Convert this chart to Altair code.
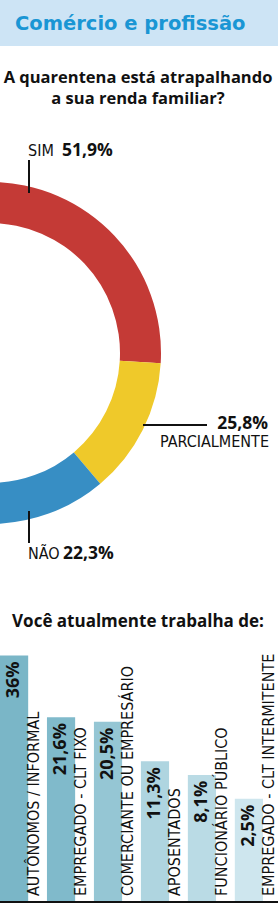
import math
import altair as alt
import pandas as pd

# ---------------- data ----------------
header_title = "Comércio e profissão"
pie_title_lines = ["A quarentena está atrapalhando", "a sua renda familiar?"]
pie_labels = ["SIM", "PARCIALMENTE", "NÃO"]
pie_values = [51.9, 25.8, 22.3]
pie_texts = ["51,9%", "25,8%", "22,3%"]
pie_colors = ["#c43a36", "#efc92a", "#378ec4"]

bar_title = "Você atualmente trabalha de:"
bar_labels = [
    "AUTÔNOMOS / INFORMAL",
    "EMPREGADO - CLT FIXO",
    "COMERCIANTE OU EMPRESÁRIO",
    "APOSENTADOS",
    "FUNCIONÁRIO PÚBLICO",
    "EMPREGADO - CLT INTERMITENTE",
]
bar_values = [36, 21.6, 20.5, 11.3, 8.1, 2.5]
bar_texts = ["36%", "21,6%", "20,5%", "11,3%", "8,1%", "2,5%"]
bar_colors = ["#7ab6c7", "#80bacb", "#95c6d4", "#afd5e0", "#badbe5", "#cee6ee"]

# ---------------- layout ----------------
W, H = 278, 910
HEAD_FONT = "Open Sans"
WIDE_FONT = "DejaVu Sans"
COND_FONT = "Liberation Sans Narrow, DejaVu Sans Condensed, Roboto"
BAR_BASE = -21.6

pie_df = pd.DataFrame({"label": pie_labels, "value": pie_values,
                       "text": pie_texts, "order": list(range(len(pie_labels)))})
bar_df = pd.DataFrame({"label": bar_labels, "value": bar_values, "text": bar_texts})
one = pd.DataFrame({"k": [0]})

band = alt.Chart(one).mark_rect(color="#cde4f5").encode(
    x=alt.value(0), x2=alt.value(W), y=alt.value(0), y2=alt.value(46))

head = alt.Chart(one).mark_text(
    text=header_title, font=WIDE_FONT, fontSize=19.5, fontWeight="bold",
    color="#1a96d4", align="left", baseline="alphabetic").encode(
    x=alt.value(15), y=alt.value(30))

t1 = alt.Chart(one).mark_text(
    text=pie_title_lines[0], font=HEAD_FONT, fontSize=16.5, fontWeight="bold",
    color="#111111", align="center", baseline="alphabetic").encode(
    x=alt.value(138), y=alt.value(83))
t2 = alt.Chart(one).mark_text(
    text=pie_title_lines[1], font=HEAD_FONT, fontSize=16.5, fontWeight="bold",
    color="#111111", align="center", baseline="alphabetic").encode(
    x=alt.value(138), y=alt.value(104))

arcs = alt.Chart(pie_df).mark_arc(outerRadius=171, innerRadius=130).encode(
    theta=alt.Theta("value:Q", stack=True, scale=alt.Scale(range=[0, math.pi])),
    color=alt.Color("label:N", scale=alt.Scale(domain=pie_labels, range=pie_colors), legend=None),
    order=alt.Order("order:Q"),
    x=alt.value(-10), y=alt.value(353),
)

def lab(text, x, y, bold=False, size=16, align="left"):
    return alt.Chart(one).mark_text(
        text=text, font=(HEAD_FONT if bold else COND_FONT), fontSize=size,
        fontWeight=("bold" if bold else "normal"), color="#111111",
        align=align, baseline="alphabetic").encode(x=alt.value(x), y=alt.value(y))

pie_lab = [
    lab(pie_labels[0], 28, 156), lab(pie_texts[0], 62, 156, bold=True, size=17.5),
    lab(pie_texts[1], 268, 429, bold=True, size=17.5, align="right"),
    lab(pie_labels[1], 269, 447, align="right"),
    lab(pie_labels[2], 28, 559), lab(pie_texts[2], 63, 559, bold=True, size=17.5),
]

lines = [
    alt.Chart(one).mark_rule(color="#111111", strokeWidth=2).encode(
        x=alt.value(29), y=alt.value(160), y2=alt.value(193)),
    alt.Chart(one).mark_rule(color="#111111", strokeWidth=2).encode(
        x=alt.value(143), x2=alt.value(207), y=alt.value(425)),
    alt.Chart(one).mark_rule(color="#111111", strokeWidth=2).encode(
        x=alt.value(29), y=alt.value(511), y2=alt.value(543)),
]

t3 = alt.Chart(one).mark_text(
    text=bar_title, font=HEAD_FONT, fontSize=17, fontWeight="bold",
    color="#111111", align="center", baseline="alphabetic").encode(
    x=alt.value(138), y=alt.value(627))

xs = alt.X("label:N", sort=bar_labels, axis=None,
           scale=alt.Scale(domain=bar_labels, range=[0, 263], paddingInner=0.4, paddingOuter=0))
ys = alt.Y("value:Q", axis=None,
           scale=alt.Scale(domain=[BAR_BASE, 36], range=[902, 655.5], nice=False, zero=False))

bars = alt.Chart(bar_df).mark_bar().encode(
    x=xs, y=ys, y2=alt.datum(BAR_BASE),
    color=alt.Color("label:N", scale=alt.Scale(domain=bar_labels, range=bar_colors), legend=None),
)

vals = alt.Chart(bar_df).mark_text(
    angle=270, align="right", baseline="middle", dx=-6, font=HEAD_FONT,
    fontSize=18, fontWeight="bold", color="#111111").encode(
    x=alt.X("label:N", sort=bar_labels), y="value:Q", text="text:N")

cats = alt.Chart(bar_df).mark_text(
    angle=270, align="left", baseline="alphabetic", dx=6, dy=25, font=COND_FONT,
    fontSize=16, color="#111111").encode(
    x=alt.X("label:N", sort=bar_labels), y=alt.datum(BAR_BASE), text="label:N")

base_rule = alt.Chart(one).mark_rule(color="#111111", strokeWidth=2).encode(
    y=alt.datum(BAR_BASE), x=alt.value(0), x2=alt.value(W))

chart = alt.layer(
    band, head, t1, t2, arcs, *pie_lab, *lines, t3, bars, vals, cats, base_rule
).resolve_scale(color="independent").properties(
    width=W, height=H, padding=0,
    autosize=alt.AutoSizeParams(type="none"),
).configure_view(stroke=None)

chart.save("out.html", embed_options={"renderer": "svg", "actions": False})
